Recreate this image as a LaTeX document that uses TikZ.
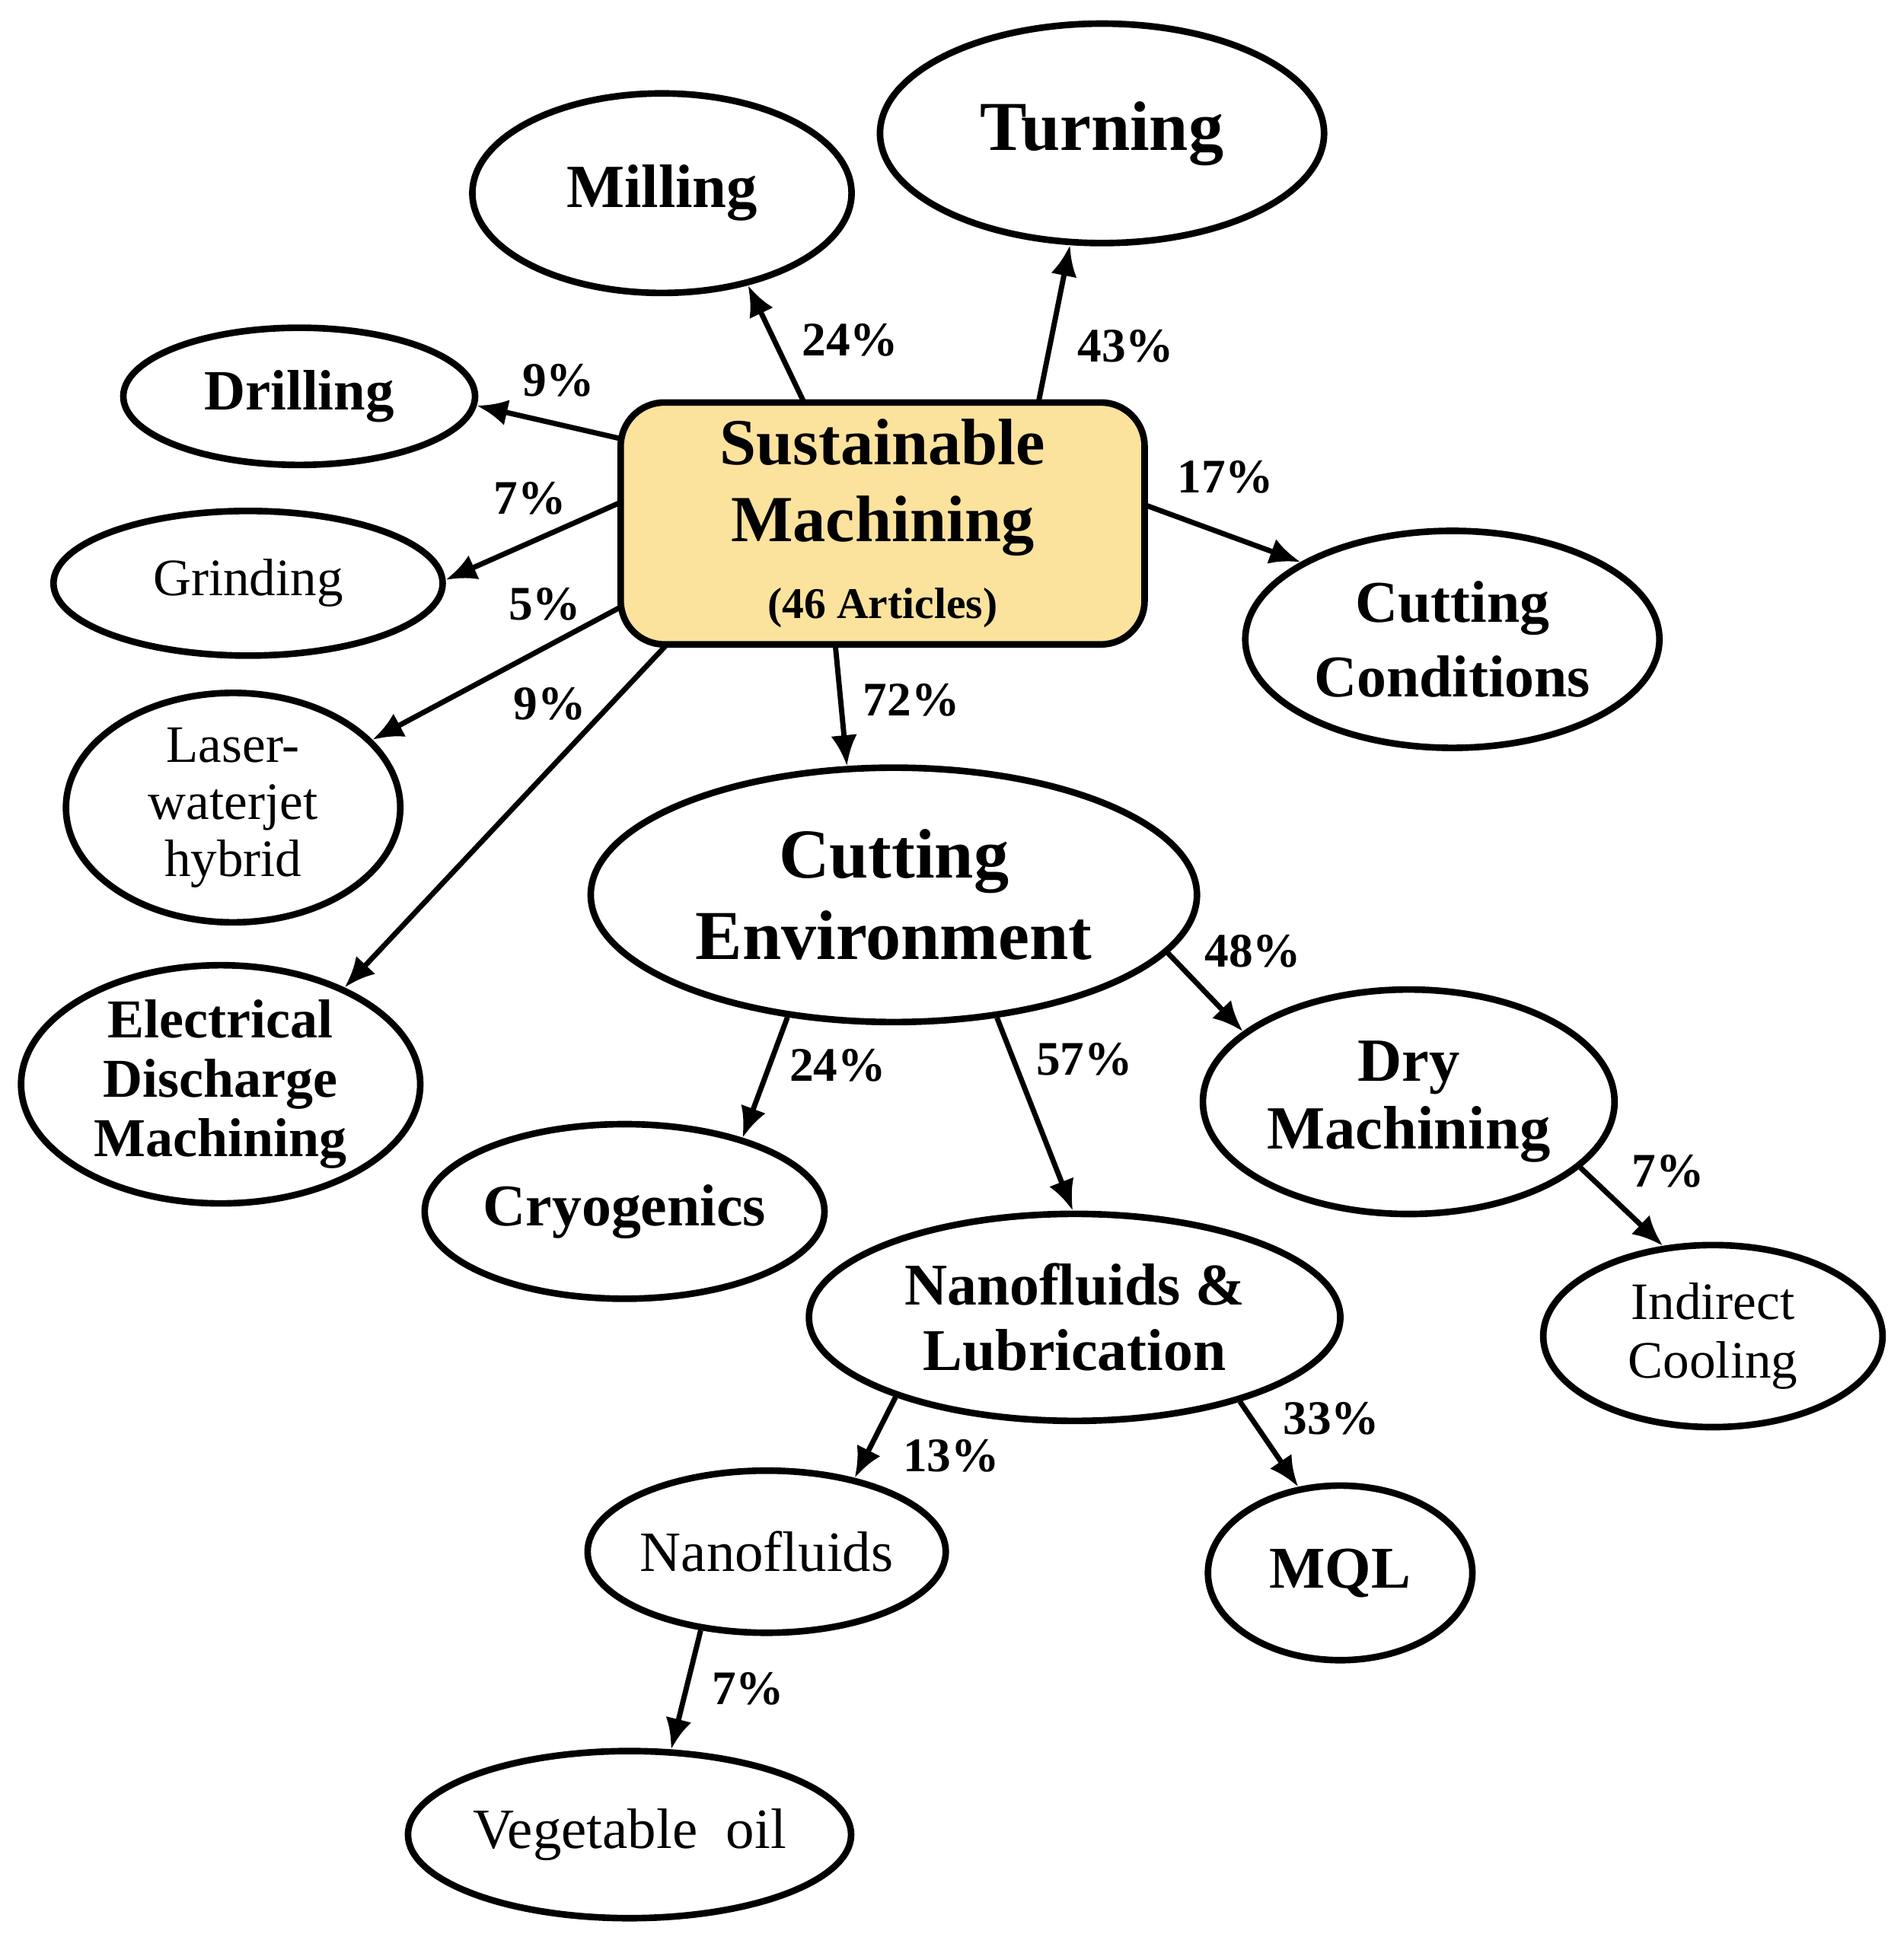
\documentclass[tikz,border=0pt]{standalone}
\usepackage{fontspec}
\setmainfont{Liberation Serif}
\usetikzlibrary{shapes.geometric,arrows.meta}
\definecolor{boxy}{HTML}{FBE29D}
\tikzset{
 el/.style={ellipse,draw,line width=1.5pt,inner sep=0pt,align=center,fill=white},
 arr/.style={line width=1.2pt,-{Latex[length=7pt,width=6pt]}},
 pct/.style={font=\fontsize{11}{12}\selectfont\bfseries},
}
\begin{document}
\begin{tikzpicture}[x=0.01cm,y=-0.01cm]
\useasboundingbox (0,0) rectangle (1527,1567);
\node[draw,line width=1.5pt,rounded corners=0.35cm,fill=boxy,minimum width=4.2cm,minimum height=1.94cm,align=center,font=\fontsize{15}{17.5}\selectfont\bfseries] (box) at (708,420)
 {Sustainable\\Machining\\{\fontsize{10}{12}\selectfont (46 Articles)}};
\node[el,minimum width=3.56cm,minimum height=1.76cm,font=\fontsize{16}{17}\selectfont\bfseries] (turn) at (884,107) {Turning};
\node[el,minimum width=3.04cm,minimum height=1.6cm,font=\fontsize{14}{15}\selectfont\bfseries] (mill) at (531,155) {Milling};
\node[el,minimum width=2.82cm,minimum height=1.1cm,font=\fontsize{13}{14}\selectfont\bfseries] (drill) at (240,318) {Drilling};
\node[el,minimum width=3.12cm,minimum height=1.16cm,font=\fontsize{12}{13}\selectfont] (grind) at (199,468) {Grinding};
\node[el,minimum width=2.68cm,minimum height=1.84cm,font=\fontsize{12}{13}\selectfont] (laser) at (187,648) {Laser-\\waterjet\\hybrid};
\node[el,minimum width=3.2cm,minimum height=1.84cm,font=\fontsize{12.5}{13.5}\selectfont\bfseries] (edm) at (177,870) {Electrical\\Discharge\\Machining};
\node[el,minimum width=3.32cm,minimum height=1.74cm,font=\fontsize{13.5}{17}\selectfont\bfseries] (cc) at (1165,513) {Cutting\\Conditions};
\node[el,minimum width=4.86cm,minimum height=2.04cm,font=\fontsize{16}{18.5}\selectfont\bfseries] (ce) at (717,718) {Cutting\\Environment};
\node[el,minimum width=3.3cm,minimum height=1.8cm,font=\fontsize{14}{15.5}\selectfont\bfseries] (dry) at (1130,884) {Dry\\Machining};
\node[el,minimum width=3.16cm,minimum height=1.4cm,font=\fontsize{13.5}{15}\selectfont\bfseries] (cryo) at (501,972) {Cryogenics};
\node[el,minimum width=4.26cm,minimum height=1.66cm,font=\fontsize{13.5}{15}\selectfont\bfseries] (nl) at (862,1057) {Nanofluids \&\\Lubrication};
\node[el,minimum width=2.72cm,minimum height=1.46cm,font=\fontsize{12}{13.5}\selectfont] (ind) at (1374,1072) {Indirect\\Cooling};
\node[el,minimum width=2.84cm,minimum height=1.3cm,font=\fontsize{13}{14}\selectfont] (nano) at (615,1245) {Nanofluids};
\node[el,minimum width=2.12cm,minimum height=1.4cm,font=\fontsize{13.5}{15}\selectfont\bfseries] (mql) at (1075,1262) {MQL};
\node[el,minimum width=3.44cm,minimum height=1.34cm,font=\fontsize{13}{14}\selectfont] (veg) at (505,1472) {Vegetable\ \ oil};

\draw[arr] ([shift={(-63,-97)}]box.center) -- (mill.-47);
\node[pct] (p0) at (682,273) {24\%};
\draw[arr] ([shift={(125,-97)}]box.center) -- (turn.-106);
\node[pct] (p00) at (903,278) {43\%};
\draw[arr] ([shift={(-210,-68)}]box.center) -- (drill.-3);
\node[pct] (p1) at (448,305) {9\%};
\draw[arr] ([shift={(-210,-17)}]box.center) -- (grind.1);
\node[pct] (p2) at (425,400) {7\%};
\draw[arr] ([shift={(-210,67)}]box.center) -- (laser.26);
\node[pct] (p3) at (437,485) {5\%};
\draw[arr] ([shift={(-173,97)}]box.center) -- (edm.38);
\node[pct] (p4) at (441,565) {9\%};
\draw[arr] ([shift={(-38,97)}]box.center) -- (ce.110);
\node[pct] (p5) at (731,562) {72\%};
\draw[arr] ([shift={(210,-15)}]box.center) -- (cc.153);
\node[pct] (p6) at (983,383) {17\%};
\draw[arr] (ce.-12) -- (dry.157);
\node[pct] (p7) at (1005,763) {48\%};
\draw[arr] (ce.-131) -- (cryo.32);
\node[pct] (p8) at (672,855) {24\%};
\draw[arr] (ce.-50) -- (nl.91);
\node[pct] (p9) at (870,850) {57\%};
\draw[arr] (dry.-21) -- (ind.119);
\node[pct] (p10) at (1338,940) {7\%};
\draw[arr] (nl.-156) -- (nano.40);
\node[pct] (p11) at (763,1168) {13\%};
\draw[arr] (nl.-27) -- (mql.116);
\node[pct] (p12) at (1068,1138) {33\%};
\draw[arr] (nano.-130) -- (veg.64);
\node[pct] (p13) at (600,1355) {7\%};
\end{tikzpicture}
\end{document}
